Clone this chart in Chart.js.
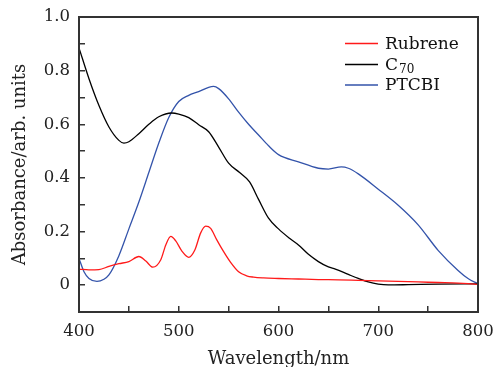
<!DOCTYPE html>
<html>
<head>
<meta charset="utf-8">
<script src="https://cdn.jsdelivr.net/npm/chart.js@4/dist/chart.umd.min.js"></script>
<style>
  html, body { margin: 0; padding: 0; background: #fff; }
  #wrap { width: 497px; height: 367px; }
</style>
</head>
<body>
<div id="wrap"><canvas id="myChart" width="497" height="367"></canvas></div>
<script>
'use strict';

// wavelength (nm) / absorbance
var rubreneNm = [400, 410, 420, 430, 440, 450, 460, 467, 474, 482, 487, 492, 497, 503, 510, 516, 522, 527, 532, 538, 545, 552, 560, 568, 575, 585, 600, 620, 640, 660, 680, 700, 720, 740, 760, 780, 790, 800];
var rubreneAbs = [0.060, 0.057, 0.058, 0.070, 0.080, 0.088, 0.107, 0.090, 0.067, 0.095, 0.150, 0.182, 0.165, 0.128, 0.104, 0.130, 0.195, 0.220, 0.212, 0.170, 0.125, 0.085, 0.050, 0.035, 0.030, 0.027, 0.025, 0.023, 0.021, 0.020, 0.018, 0.016, 0.014, 0.012, 0.010, 0.008, 0.006, 0.003];

var c70Nm = [400, 410, 420, 430, 440, 445, 450, 460, 470, 480, 493, 500, 510, 520, 530, 540, 550, 561, 571, 580, 590, 600, 611, 620, 630, 640, 650, 657, 670, 680, 690, 700, 710, 730, 760, 800];
var c70Abs = [0.885, 0.770, 0.670, 0.590, 0.540, 0.530, 0.535, 0.565, 0.600, 0.628, 0.642, 0.638, 0.625, 0.598, 0.572, 0.515, 0.455, 0.420, 0.385, 0.320, 0.250, 0.210, 0.175, 0.150, 0.115, 0.088, 0.068, 0.060, 0.040, 0.025, 0.012, 0.004, 0.001, 0.002, 0.004, 0.005];

var ptcbiNm = [400, 405, 410, 418, 425, 430, 440, 450, 460, 470, 480, 490, 500, 510, 520, 530, 535, 540, 550, 560, 570, 580, 590, 600, 620, 640, 650, 663, 670, 680, 700, 720, 740, 760, 780, 790, 800];
var ptcbiAbs = [0.100, 0.050, 0.025, 0.014, 0.022, 0.038, 0.110, 0.210, 0.310, 0.420, 0.530, 0.625, 0.685, 0.708, 0.722, 0.738, 0.741, 0.733, 0.695, 0.645, 0.600, 0.560, 0.520, 0.487, 0.460, 0.436, 0.433, 0.441, 0.436, 0.415, 0.358, 0.298, 0.225, 0.130, 0.055, 0.025, 0.005];

var seriesNames = ['Rubrene', 'C70', 'PTCBI'];
var seriesColors = ['#ff1a1a', '#000000', '#3353aa'];
var yLabels = [0, 0.2, 0.4, 0.6, 0.8, 1.0];
var xLabels = [400, 500, 600, 700, 800];

var FONT = '"DejaVu Serif", "Liberation Serif", serif';
var AXIS = '#333333';

function pairs(xs, ys) {
    return xs.map(function(x, i) { return { x: x, y: ys[i] }; });
}

function lineSet(name, color, xs, ys) {
    return {
        label: name,
        data: pairs(xs, ys),
        borderColor: color,
        backgroundColor: color,
        borderWidth: 1.3,
        pointRadius: 0,
        fill: false,
        cubicInterpolationMode: 'monotone',
        tension: 0.4
    };
}

// frame around the plot (top and right sides have no ticks)
var framePlugin = {
    id: 'frame',
    afterDatasetsDraw: function(chart) {
        var a = chart.chartArea, c = chart.ctx;
        c.save();
        c.strokeStyle = AXIS;
        c.lineWidth = 2;
        c.strokeRect(a.left, a.top, a.right - a.left, a.bottom - a.top);
        c.restore();
    }
};

// legend in the upper right corner, with subscript for C70
var legendPlugin = {
    id: 'cornerLegend',
    afterDraw: function(chart) {
        var a = chart.chartArea, c = chart.ctx;
        var x0 = a.right - 133, x1 = a.right - 100, tx = a.right - 93;
        var rows = [a.top + 26.5, a.top + 47.5, a.top + 68];
        c.save();
        c.textBaseline = 'alphabetic';
        c.fillStyle = '#111';
        rows.forEach(function(y, i) {
            c.strokeStyle = seriesColors[i];
            c.lineWidth = 1.3;
            c.beginPath();
            c.moveTo(x0, y);
            c.lineTo(x1, y);
            c.stroke();
            c.font = '17px ' + FONT;
            if (seriesNames[i] === 'C70') {
                c.fillText('C', tx, y + 5);
                var w = c.measureText('C').width;
                c.font = '12px ' + FONT;
                c.fillText('70', tx + w + 1, y + 8);
            } else {
                c.fillText(seriesNames[i], tx, y + 5);
            }
        });
        c.restore();
    }
};

var ctx = document.getElementById('myChart').getContext('2d');
var myChart = new Chart(ctx, {
    type: 'line',
    data: {
        datasets: [
            lineSet(seriesNames[0], seriesColors[0], rubreneNm, rubreneAbs),
            lineSet(seriesNames[1], seriesColors[1], c70Nm, c70Abs),
            lineSet(seriesNames[2], seriesColors[2], ptcbiNm, ptcbiAbs)
        ]
    },
    options: {
        responsive: false,
        animation: false,
        devicePixelRatio: 1,
        layout: { padding: { top: 17, right: 19, left: 0, bottom: 0 } },
        plugins: {
            legend: { display: false },
            tooltip: { enabled: false }
        },
        scales: {
            x: {
                type: 'linear',
                min: 400,
                max: 800,
                afterFit: function(s) {
                    s.height = 55;
                    s.paddingLeft = 0;
                    s.paddingRight = 0;
                },
                afterBuildTicks: function(s) {
                    s.ticks = [];
                    for (var v = 400; v <= 800; v += 50) s.ticks.push({ value: v });
                },
                border: { display: false },
                grid: {
                    drawOnChartArea: false,
                    drawTicks: true,
                    tickLength: -6,
                    color: AXIS,
                    lineWidth: 1.5
                },
                ticks: {
                    padding: 16,
                    maxRotation: 0,
                    autoSkip: false,
                    color: '#222',
                    font: { family: FONT, size: 16.5 },
                    callback: function(v) { return xLabels.indexOf(v) >= 0 ? String(v) : ''; }
                },
                title: {
                    display: true,
                    text: 'Wavelength/nm',
                    color: '#222',
                    font: { family: FONT, size: 18 },
                    padding: { top: 0, bottom: -3 }
                }
            },
            y: {
                type: 'linear',
                min: -0.1,
                max: 1.0,
                afterFit: function(s) {
                    s.width = 79;
                    s.paddingTop = 0;
                    s.paddingBottom = 0;
                },
                afterBuildTicks: function(s) {
                    s.ticks = [];
                    for (var i = -1; i <= 10; i++) s.ticks.push({ value: Math.round(i * 10) / 100 });
                },
                border: { display: false },
                grid: {
                    drawOnChartArea: false,
                    drawTicks: true,
                    tickLength: -6,
                    color: AXIS,
                    lineWidth: 1.5
                },
                ticks: {
                    padding: 15,
                    autoSkip: false,
                    color: '#222',
                    font: { family: FONT, size: 16.5 },
                    callback: function(v) {
                        var r = Math.round(v * 10) / 10;
                        if (yLabels.indexOf(r) < 0 || Math.abs(v - r) > 1e-6) return '';
                        return r === 0 ? '0' : r.toFixed(1);
                    }
                },
                title: {
                    display: true,
                    text: 'Absorbance/arb. units',
                    color: '#222',
                    font: { family: FONT, size: 18 },
                    padding: { top: 10, bottom: 0 }
                }
            }
        }
    },
    plugins: [framePlugin, legendPlugin]
});
</script>
</body>
</html>
